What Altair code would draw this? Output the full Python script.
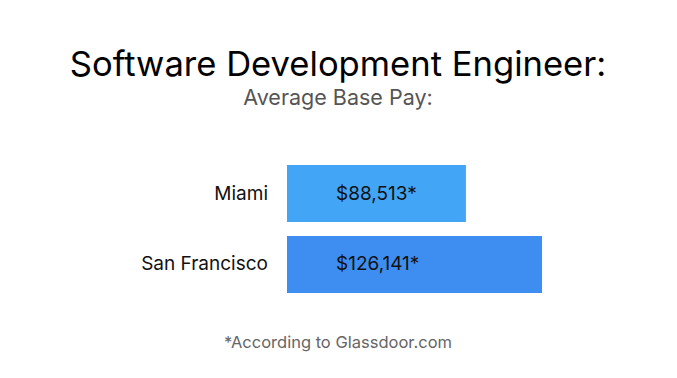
import altair as alt
import pandas as pd

cities = ["Miami", "San Francisco"]
salaries = [88513, 126141]
labels = ["$88,513*", "$126,141*"]
colors = ["#42A5F5", "#3D8EF0"]

title_text = "Software Development Engineer:"
subtitle_text = "Average Base Pay:"
footnote_text = "*According to Glassdoor.com"

FONT = "Inter"

df = pd.DataFrame({"city": cities, "salary": salaries, "label": labels, "color": colors})

W, H = 661, 362

x_scale = alt.Scale(domain=[0, max(salaries)], range=[279, 534], nice=False, zero=True)
y_scale = alt.Scale(domain=cities, range=[157, 285], paddingInner=0.197, paddingOuter=0)

base = alt.Chart(df)

bars = base.mark_bar().encode(
    x=alt.X("salary:Q", scale=x_scale, axis=None),
    y=alt.Y("city:N", scale=y_scale, axis=None),
    color=alt.Color("color:N", scale=None),
)

values = base.mark_text(align="left", baseline="middle", font=FONT, fontSize=19, color="#111111").encode(
    x=alt.value(328),
    y=alt.Y("city:N", scale=y_scale, axis=None, bandPosition=0.5),
    text="label:N",
)

cats = base.mark_text(align="right", baseline="middle", font=FONT, fontSize=19, color="#111111").encode(
    x=alt.value(260),
    y=alt.Y("city:N", scale=y_scale, axis=None, bandPosition=0.5),
    text="city:N",
)

def label(txt, y, size, color):
    return alt.Chart(pd.DataFrame({"t": [txt]})).mark_text(
        align="center", baseline="alphabetic", font=FONT, fontSize=size, color=color
    ).encode(x=alt.value(330), y=alt.value(y), text="t:N")

title = label(title_text, 68, 34.6, "#000000")
subtitle = label(subtitle_text, 97, 21.5, "#555555")
foot = label(footnote_text, 340, 16.5, "#666666")

chart = alt.layer(bars, values, cats, title, subtitle, foot).properties(
    width=W, height=H, autosize=alt.AutoSizeParams(type="none"), padding=0
).configure(background="white").configure_view(stroke=None, strokeWidth=0)

chart.save("out.html", embed_options={"renderer": "svg", "actions": False})
